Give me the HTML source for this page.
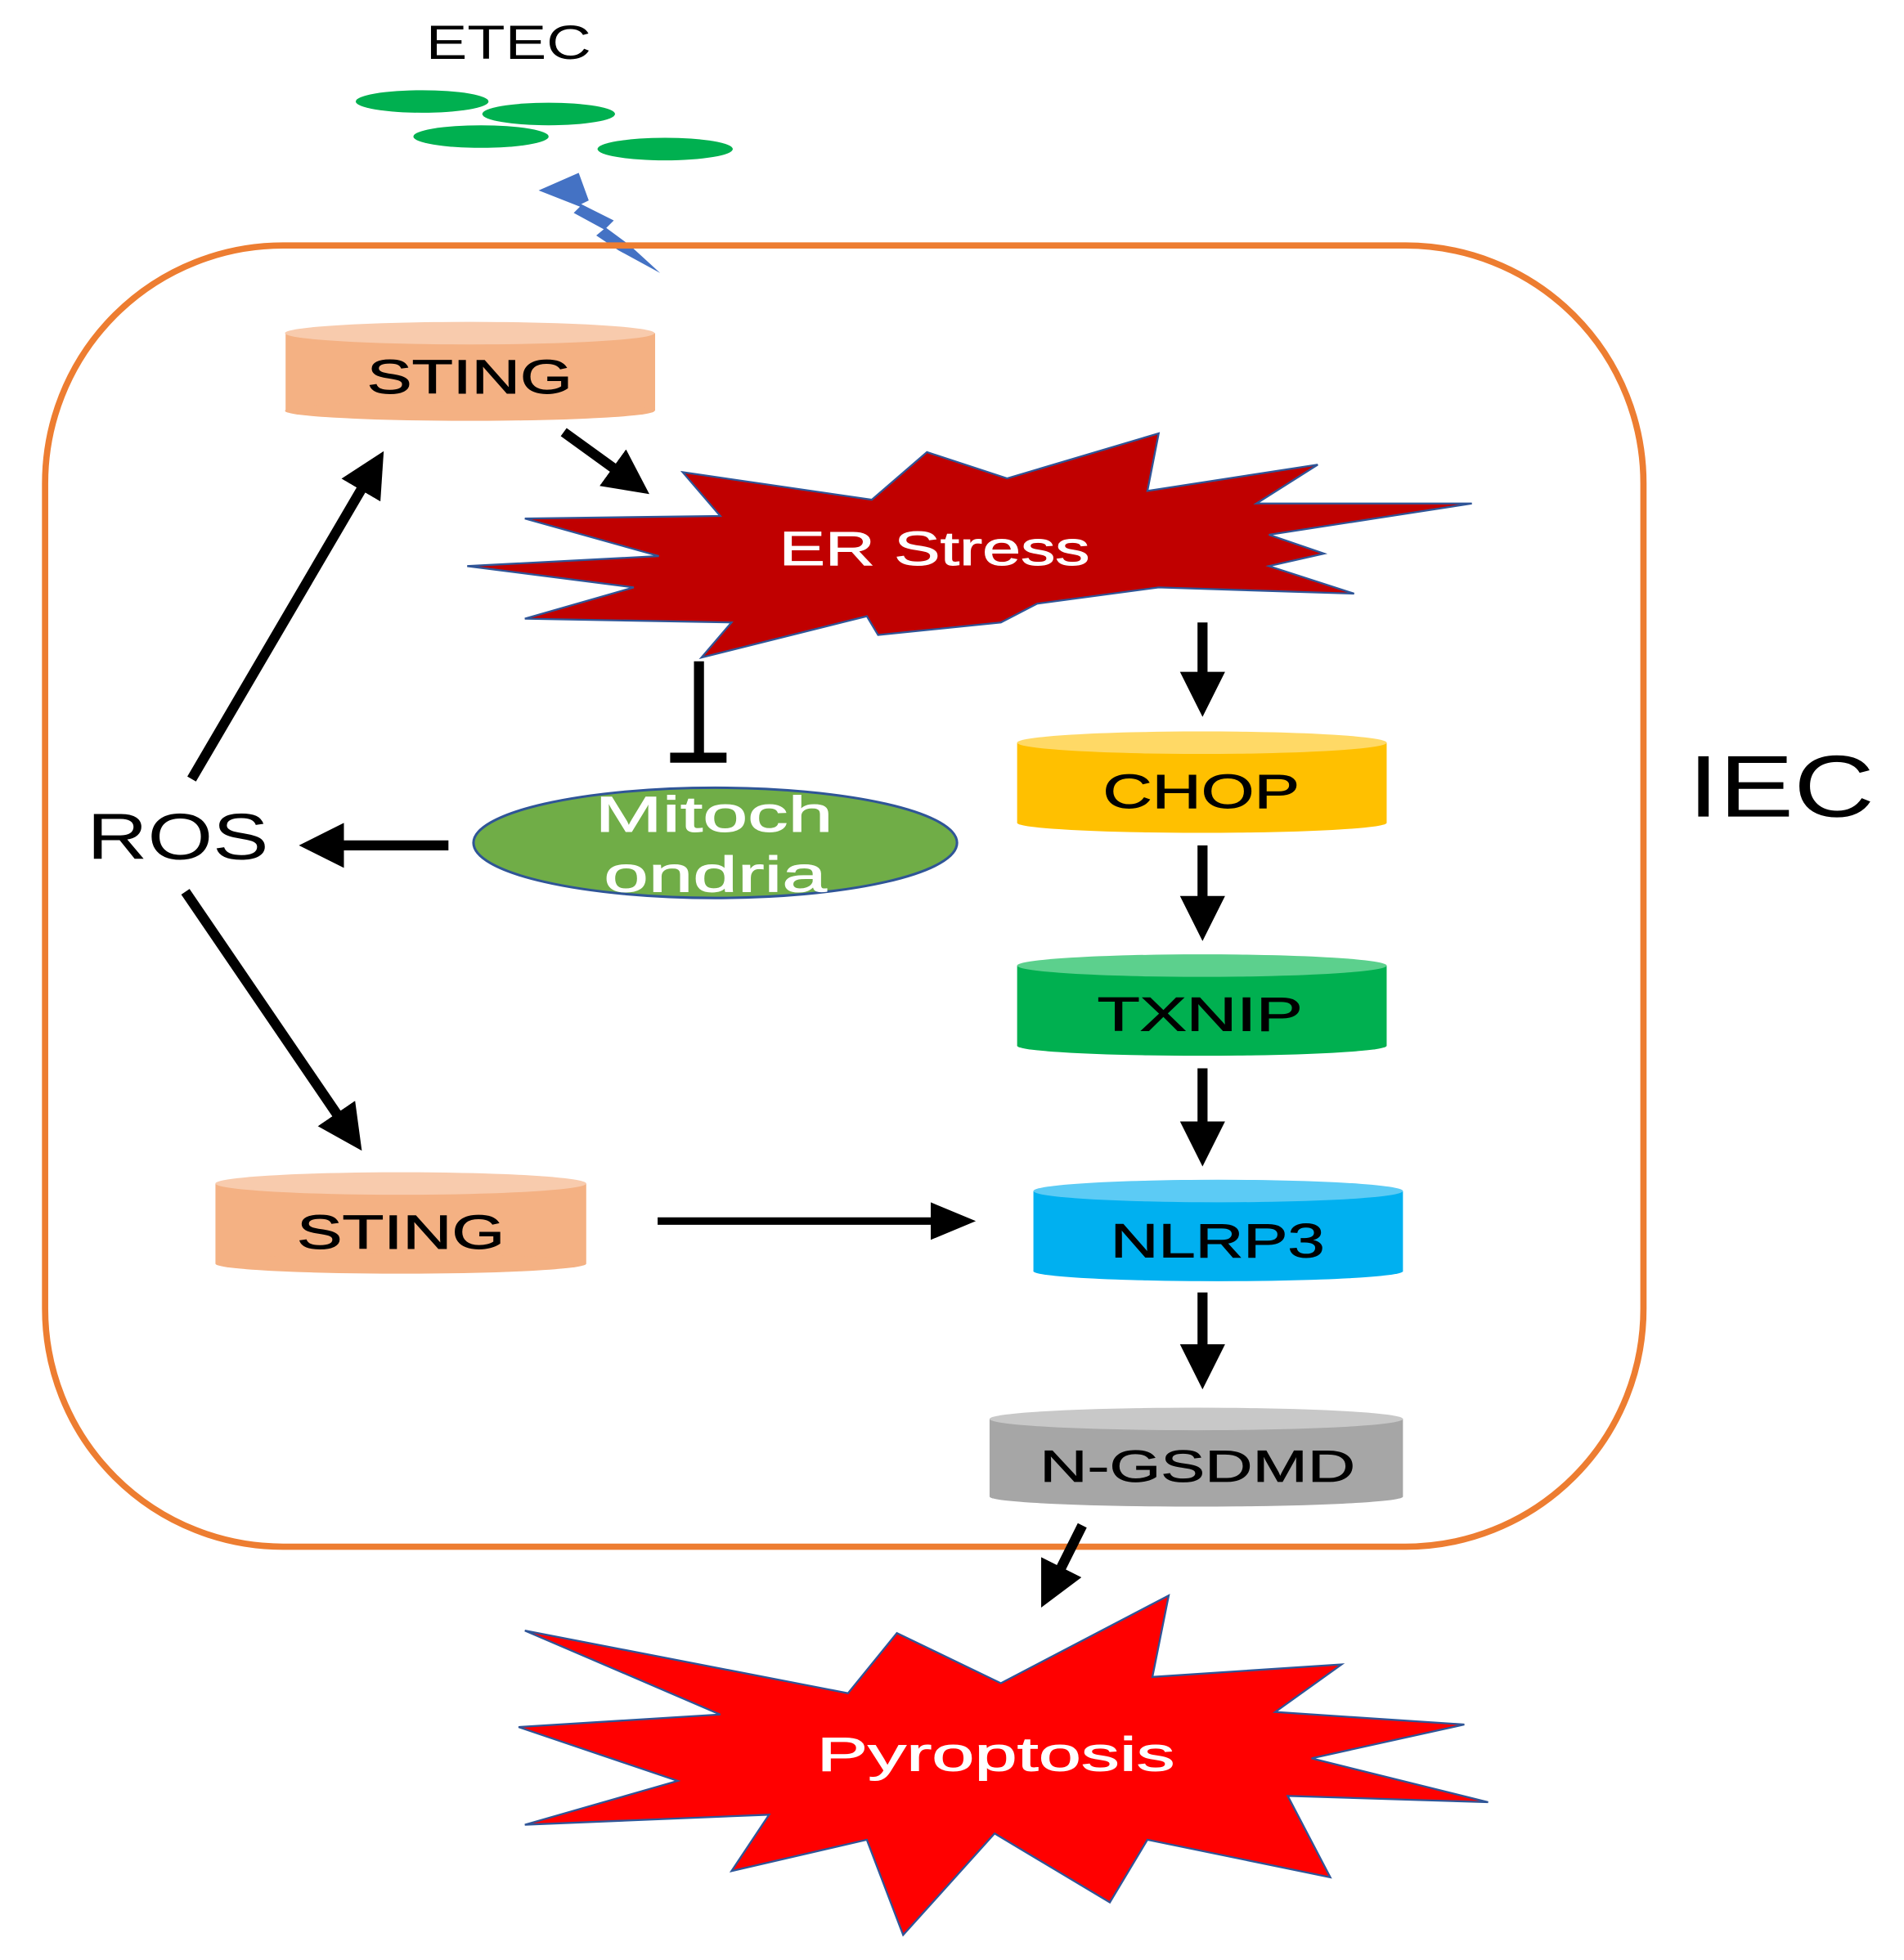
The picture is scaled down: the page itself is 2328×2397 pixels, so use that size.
<!DOCTYPE html>
<html><head><meta charset="utf-8"><style>html,body{margin:0;padding:0;background:#fff}svg{display:block}</style></head>
<body>
<svg width="2328" height="2397" viewBox="0 0 1520 1565" xmlns="http://www.w3.org/2000/svg" font-family="'Liberation Sans', sans-serif">
<defs>
<marker id="ah" markerWidth="4.5" markerHeight="4.5" refX="1.2" refY="2.25" orient="auto" markerUnits="strokeWidth"><path d="M0,0 L4.5,2.25 L0,4.5 z" fill="#000"/></marker>
<marker id="ah2" markerWidth="6" markerHeight="5" refX="1.5" refY="2.5" orient="auto" markerUnits="strokeWidth"><path d="M0,0 L6,2.5 L0,5 z" fill="#000"/></marker>
</defs>
<rect width="1520" height="1565" fill="#fff"/>
<text x="406" y="47" font-size="38" text-anchor="middle" textLength="132" lengthAdjust="spacingAndGlyphs">ETEC</text>
<g fill="#00B050">
<ellipse cx="337" cy="81" rx="53" ry="9"/>
<ellipse cx="438" cy="91" rx="53" ry="9"/>
<ellipse cx="384" cy="109" rx="54" ry="9"/>
<ellipse cx="531" cy="119" rx="54" ry="9"/>
</g>
<polygon points="430,152 462,138 470,160 464,163 490,176 484,182 503,196 527,218 494,200 476,188 482,183 458,170 463,165" fill="#4472C4"/>
<rect x="36" y="196" width="1276" height="1039" rx="190" ry="190" fill="none" stroke="#ED7D31" stroke-width="5"/>
<!-- STING 1 -->
<rect x="228" y="266" width="295" height="62" fill="#F4B183"/>
<ellipse cx="375" cy="328" rx="147.5" ry="8" fill="#F4B183"/>
<ellipse cx="375" cy="266" rx="147.5" ry="9" fill="#F8CBAD"/>
<text x="375" y="314" font-size="38" text-anchor="middle" textLength="164" lengthAdjust="spacingAndGlyphs" stroke="#000" stroke-width="0.6">STING</text>
<!-- ER stress -->
<polygon points="373,452 526,444 419,414 575,412 545,377 696,399 740,361 804,382 925,346 916,392 1052,371 1003,402 1175,402 1013,427 1057,442 1013,452 1081,474 925,469 828,482 799,497 701,507 692,492 560,525 584,497 419,494 506,469" fill="#C00000" stroke="#2F5597" stroke-width="1.5"/>
<text x="746" y="451" font-size="38" fill="#fff" text-anchor="middle" textLength="248" lengthAdjust="spacingAndGlyphs" stroke="#fff" stroke-width="0.6">ER Stress</text>
<!-- CHOP -->
<rect x="812" y="593" width="295" height="64" fill="#FFC000"/>
<ellipse cx="959.5" cy="657" rx="147.5" ry="8" fill="#FFC000"/>
<ellipse cx="959.5" cy="593" rx="147.5" ry="9" fill="#FFD966"/>
<text x="959" y="645" font-size="38" text-anchor="middle" textLength="157" lengthAdjust="spacingAndGlyphs" stroke="#000" stroke-width="0.6">CHOP</text>
<!-- TXNIP -->
<rect x="812" y="771" width="295" height="64" fill="#00B050"/>
<ellipse cx="959.5" cy="835" rx="147.5" ry="8" fill="#00B050"/>
<ellipse cx="959.5" cy="771" rx="147.5" ry="9" fill="#5CD08D"/>
<text x="958" y="823" font-size="38" text-anchor="middle" textLength="164" lengthAdjust="spacingAndGlyphs" stroke="#000" stroke-width="0.6">TXNIP</text>
<!-- NLRP3 -->
<rect x="825" y="951" width="295" height="64" fill="#00B0F0"/>
<ellipse cx="972.5" cy="1015" rx="147.5" ry="8" fill="#00B0F0"/>
<ellipse cx="972.5" cy="951" rx="147.5" ry="9" fill="#5CCBF5"/>
<text x="972" y="1004" font-size="38" text-anchor="middle" textLength="171" lengthAdjust="spacingAndGlyphs" stroke="#000" stroke-width="0.6">NLRP3</text>
<!-- N-GSDMD -->
<rect x="790" y="1133" width="330" height="62" fill="#A6A6A6"/>
<ellipse cx="955" cy="1195" rx="165" ry="8" fill="#A6A6A6"/>
<ellipse cx="955" cy="1133" rx="165" ry="9" fill="#C8C8C8"/>
<text x="956" y="1183" font-size="36" text-anchor="middle" textLength="252" lengthAdjust="spacingAndGlyphs" stroke="#000" stroke-width="0.5">N-GSDMD</text>
<!-- STING 2 -->
<rect x="172" y="945" width="296" height="64" fill="#F4B183"/>
<ellipse cx="320" cy="1009" rx="148" ry="8" fill="#F4B183"/>
<ellipse cx="320" cy="945" rx="148" ry="9" fill="#F8CBAD"/>
<text x="320" y="997" font-size="38" text-anchor="middle" textLength="166" lengthAdjust="spacingAndGlyphs" stroke="#000" stroke-width="0.6">STING</text>
<!-- Mitochondria -->
<ellipse cx="571" cy="673" rx="193" ry="44" fill="#70AD47" stroke="#2F5597" stroke-width="2"/>
<text x="570" y="664" font-size="40" fill="#fff" text-anchor="middle" textLength="190" lengthAdjust="spacingAndGlyphs" stroke="#fff" stroke-width="0.6">Mitoch</text>
<text x="571" y="712" font-size="40" fill="#fff" text-anchor="middle" textLength="178" lengthAdjust="spacingAndGlyphs" stroke="#fff" stroke-width="0.6">ondria</text>
<!-- ROS, IEC -->
<text x="142" y="686" font-size="52" text-anchor="middle" textLength="145" lengthAdjust="spacingAndGlyphs">ROS</text>
<text x="1422" y="652" font-size="70" text-anchor="middle" textLength="149" lengthAdjust="spacingAndGlyphs">IEC</text>
<!-- Pyroptosis -->
<polygon points="419,1302 677,1352 716,1304 799,1344 933,1274 920,1339 1071,1329 1018,1367 1169,1377 1047,1404 1188,1439 1028,1434 1062,1499 916,1469 886,1519 794,1464 721,1545 692,1469 584,1494 614,1449 419,1457 541,1422 414,1379 575,1369" fill="#FF0000" stroke="#2F5597" stroke-width="1.5"/>
<text x="795" y="1414" font-size="38" fill="#fff" text-anchor="middle" textLength="286" lengthAdjust="spacingAndGlyphs" stroke="#fff" stroke-width="0.6">Pyroptosis</text>
<!-- arrows -->
<g stroke="#000" stroke-width="8" fill="none">
<line x1="450" y1="345" x2="497" y2="379" marker-end="url(#ah)"/>
<line x1="153" y1="622" x2="293" y2="383" marker-end="url(#ah)"/>
<line x1="148" y1="712" x2="274" y2="897" marker-end="url(#ah)"/>
<line x1="358" y1="675" x2="265" y2="675" marker-end="url(#ah)"/>
<line x1="960" y1="497" x2="960" y2="546" marker-end="url(#ah)"/>
<line x1="960" y1="675" x2="960" y2="725" marker-end="url(#ah)"/>
<line x1="960" y1="853" x2="960" y2="905" marker-end="url(#ah)"/>
<line x1="960" y1="1032" x2="960" y2="1083" marker-end="url(#ah)"/>
<line x1="864" y1="1218" x2="843" y2="1260" marker-end="url(#ah)"/>
<line x1="558" y1="528" x2="558" y2="605"/>
<line x1="535" y1="605" x2="580" y2="605"/>
</g>
<line x1="525" y1="975" x2="752" y2="975" stroke="#000" stroke-width="6" marker-end="url(#ah2)"/>
</svg>
</body></html>
